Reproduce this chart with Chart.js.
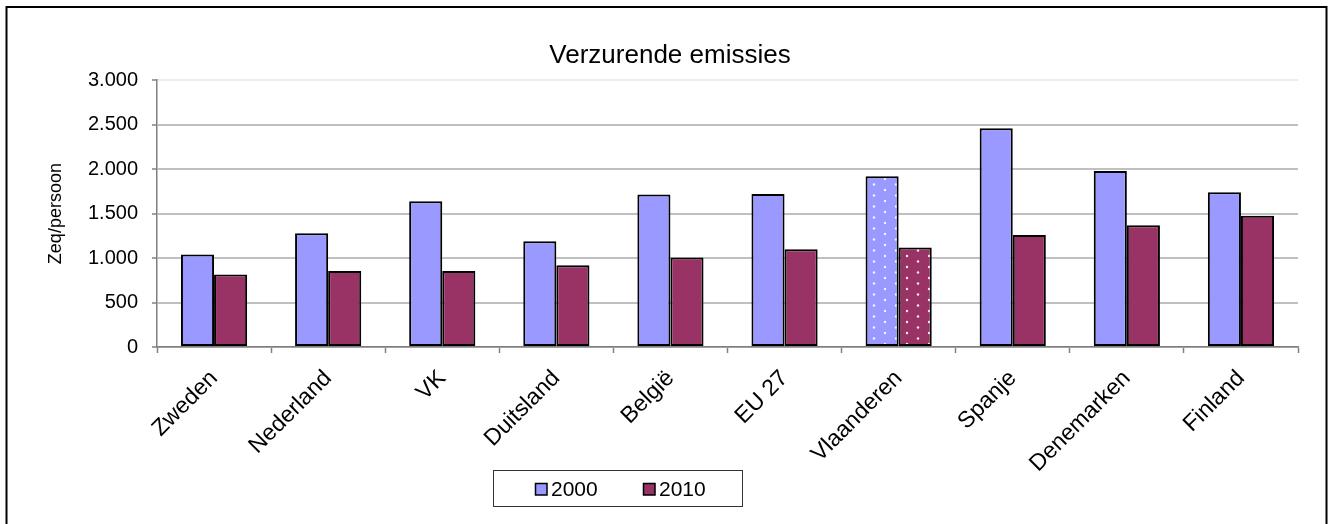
<!DOCTYPE html>
<html>
<head>
<meta charset="utf-8">
<title>Verzurende emissies</title>
<script src="https://cdn.jsdelivr.net/npm/chart.js@4/dist/chart.umd.min.js"></script>
<style>
  html, body { margin: 0; padding: 0; background: #fff; }
  #wrap { width: 1329px; height: 524px; position: relative; }
</style>
</head>
<body>
<div id="wrap"><canvas id="chart" width="1329" height="524"></canvas></div>
<script>
// Acidifying emissions per person (Zeq/persoon), 2000 vs 2010
const categories = ['Zweden', 'Nederland', 'VK', 'Duitsland', 'België', 'EU 27', 'Vlaanderen', 'Spanje', 'Denemarken', 'Finland'];
const values2000 = [1040, 1280, 1640, 1190, 1715, 1720, 1920, 2460, 1980, 1740];
const values2010 = [815, 855, 855, 920, 1005, 1100, 1120, 1260, 1370, 1475];
const yTickLabels = ['0', '500', '1.000', '1.500', '2.000', '2.500', '3.000'];
const seriesLabels = ['2000', '2010'];
const highlightIndex = 6; // Vlaanderen gets a dotted fill

const BLUE = '#9999FF';
const PLUM = '#993366';
const FONT = '"Liberation Sans", Arial, sans-serif';

function dotPattern(color) {
  const c = document.createElement('canvas');
  c.width = 22; c.height = 11;
  const g = c.getContext('2d');
  g.fillStyle = color;
  g.fillRect(0, 0, 22, 11);
  g.fillStyle = 'rgba(255,255,255,0.9)';
  [[5, 3], [16, 8.5]].forEach(([x, y]) => {
    g.beginPath(); g.arc(x, y, 1.2, 0, Math.PI * 2); g.fill();
  });
  return g.createPattern(c, 'repeat');
}

function fills(color) {
  return categories.map((_, i) => i === highlightIndex ? dotPattern(color) : color);
}

// Outer frame of the chart
const framePlugin = {
  id: 'frame',
  afterDraw(chart) {
    const ctx = chart.ctx;
    ctx.save();
    ctx.strokeStyle = '#000';
    ctx.lineWidth = 2;
    ctx.beginPath();
    ctx.moveTo(6.5, 524);
    ctx.lineTo(6.5, 7);
    ctx.lineTo(1326.5, 7);
    ctx.lineTo(1326.5, 524);
    ctx.stroke();
    ctx.restore();
  }
};

// Boxed legend below the axis
const boxLegendPlugin = {
  id: 'boxLegend',
  afterDraw(chart) {
    const ctx = chart.ctx;
    const box = { x: 493, y: 470, w: 249, h: 36 };
    ctx.save();
    ctx.fillStyle = '#fff';
    ctx.fillRect(box.x, box.y, box.w, box.h);
    ctx.strokeStyle = '#333';
    ctx.lineWidth = 1;
    ctx.strokeRect(box.x + 0.5, box.y + 0.5, box.w, box.h);
    ctx.font = '21px ' + FONT;
    ctx.textBaseline = 'alphabetic';
    ctx.textAlign = 'left';
    const starts = [535, 643];
    chart.data.datasets.forEach((ds, i) => {
      const sx = starts[i];
      ctx.fillStyle = ds.legendColor;
      ctx.fillRect(sx, 483, 12, 12);
      ctx.strokeStyle = '#000';
      ctx.lineWidth = 1.5;
      ctx.strokeRect(sx + 0.5, 483.5, 11.5, 11.5);
      ctx.fillStyle = '#000';
      ctx.fillText(ds.label, sx + 16, 496);
    });
    ctx.restore();
  }
};

new Chart(document.getElementById('chart'), {
  type: 'bar',
  data: {
    labels: categories,
    datasets: [
      {
        label: seriesLabels[0],
        data: values2000,
        backgroundColor: fills(BLUE),
        legendColor: BLUE,
        borderColor: '#000',
        borderWidth: 2,
        borderSkipped: false,
        categoryPercentage: 0.58,
        barPercentage: 1.0
      },
      {
        label: seriesLabels[1],
        data: values2010,
        backgroundColor: fills(PLUM),
        legendColor: PLUM,
        borderColor: '#000',
        borderWidth: 2,
        borderSkipped: false,
        categoryPercentage: 0.58,
        barPercentage: 1.0
      }
    ]
  },
  options: {
    responsive: false,
    animation: false,
    devicePixelRatio: 1,
    layout: { padding: { left: 42, right: 31, top: 0, bottom: 0 } },
    plugins: {
      legend: { display: false },
      tooltip: { enabled: false },
      title: {
        display: true,
        text: 'Verzurende emissies',
        color: '#000',
        font: { family: FONT, size: 26, weight: 'normal', lineHeight: 1.2 },
        padding: { top: 40, bottom: 9 }
      }
    },
    scales: {
      x: {
        offset: true,
        grid: {
          offset: true,
          drawOnChartArea: false,
          drawTicks: true,
          tickLength: 6,
          tickColor: '#808080',
          tickWidth: 1.5
        },
        border: { color: '#808080', width: 1.5 },
        ticks: {
          color: '#000',
          font: { family: FONT, size: 23 },
          minRotation: 45,
          maxRotation: 45,
          padding: 12,
          autoSkip: false
        },
        afterFit(scale) { scale.height = 177; }
      },
      y: {
        min: 0,
        max: 3000,
        grid: {
          color: (ctx) => (ctx.tick && ctx.tick.value === 3000) ? '#ececec' : '#c0c0c0',
          lineWidth: 2,
          drawTicks: true,
          tickLength: 5,
          tickColor: '#808080',
          tickWidth: 1.5
        },
        border: { color: '#808080', width: 1.5 },
        ticks: {
          stepSize: 500,
          color: '#000',
          font: { family: FONT, size: 20 },
          padding: 14,
          callback: (value, index) => yTickLabels[index]
        },
        title: {
          display: true,
          text: 'Zeq/persoon',
          color: '#000',
          font: { family: FONT, size: 18 },
          padding: { top: 3, bottom: 0 }
        },
        afterFit(scale) { scale.width = 115; }
      }
    }
  },
  plugins: [framePlugin, boxLegendPlugin]
});
</script>
</body>
</html>
